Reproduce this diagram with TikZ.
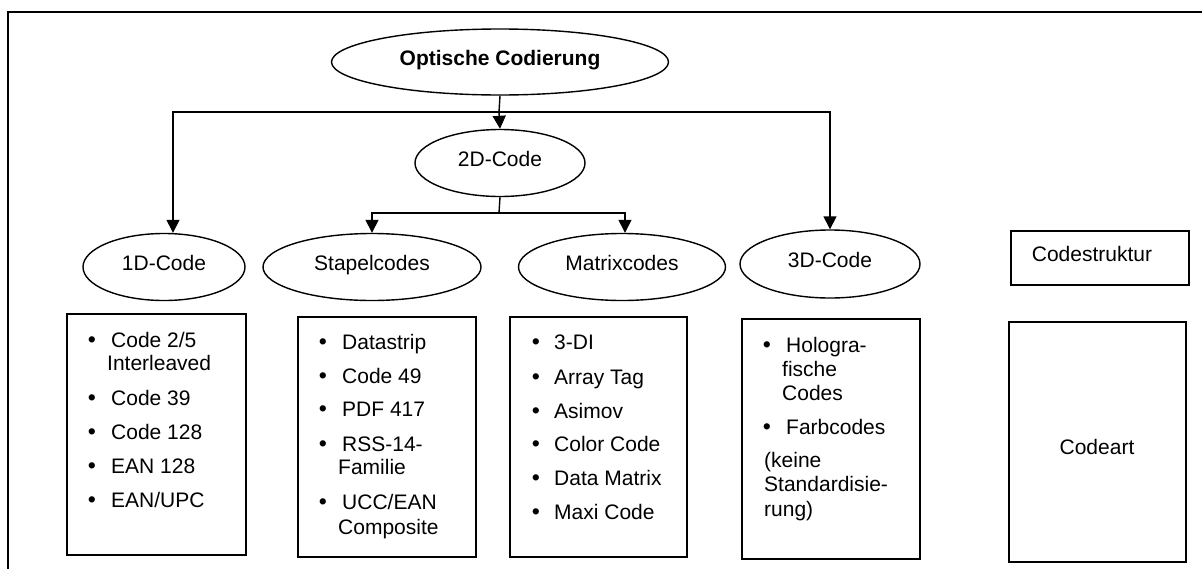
\documentclass[tikz,border=0pt]{standalone}
\usepackage{fontspec}
\setmainfont{Liberation Sans}
\usetikzlibrary{shapes.geometric,arrows.meta}
\begin{document}
\begin{tikzpicture}[x=1pt,y=-1pt,
  every node/.style={font=\fontsize{21}{24}\selectfont},
  txt/.style={inner sep=0pt},
  oval/.style={draw,line width=1.4pt,ellipse,inner sep=0pt,text height=0.72em,text depth=0pt},
  box/.style={draw,line width=1.6pt,rectangle,inner sep=0pt,text height=0.72em,text depth=0pt},
  conn/.style={line width=1.4pt},
  arr/.style={line width=1.4pt,-{Triangle[length=13pt,width=13pt]}}]
\useasboundingbox (0,0) rectangle (1202,568);
\clip (0,0) rectangle (1202,568);
\draw[line width=1.8pt] (8,12) rectangle (1240,600);

% ellipses
\node[oval,minimum width=337pt,minimum height=66pt] (oc) at (500,62) {\textbf{Optische Codierung}};
\node[oval,minimum width=170pt,minimum height=67pt] (c2) at (500,163) {2D-Code};
\node[oval,minimum width=162pt,minimum height=67pt] (c1) at (164,267) {1D-Code};
\node[oval,minimum width=218pt,minimum height=67pt] (st) at (372,267) {Stapelcodes};
\node[oval,minimum width=207pt,minimum height=67pt] (mx) at (622,267) {Matrixcodes};
\node[oval,minimum width=180pt,minimum height=68pt] (c3) at (830,264) {3D-Code};

% rectangles
\node[box,minimum width=178pt,minimum height=54pt] (cs) at (1100,258) {\hspace*{-16pt}Codestruktur};
\node[box,minimum width=179pt,minimum height=241pt] (b1) at (156.5,434.5) {};
\node[box,minimum width=178pt,minimum height=240pt] (b2) at (387,437) {};
\node[box,minimum width=177pt,minimum height=240pt] (b3) at (598.5,437) {};
\node[box,minimum width=178pt,minimum height=240pt] (b4) at (831,439) {};
\node[box,minimum width=177pt,minimum height=240pt] (ca) at (1097.5,442) {};
\node[txt,text height=0.72em,text depth=0pt] (cat) at (1097,451) {Codeart};

% connectors
\coordinate (j1) at (499,112);
\coordinate (j2) at (499,213);
\draw[conn] (oc.south) -- (j1);
\draw[arr] (j1) -- (c2.north);
\draw[arr] (j1) -| ([xshift=9pt]c1.north);
\draw[arr] (j1) -| (c3.north);
\draw[conn] (c2.south) -- (j2);
\draw[arr] (j2) -| (st.north);
\draw[arr] (j2) -| ([xshift=3pt]mx.north);

% list texts
\newcommand\itm[5]{\node[txt,anchor=base,scale=1.1] (#1b) at (#2,#4+7.5) {\textbullet};
  \node[txt,anchor=base west] (#1) at (#3,#4+7.5) {#5};}
\newcommand\lin[4]{\node[txt,anchor=base west] (#1) at (#2,#3+7.5) {#4};}

\itm{ia}{92}{111}{340}{Code 2/5}
\lin{ia2}{107}{363}{Interleaved}
\itm{ib}{92}{111}{398}{Code 39}
\itm{ic}{92}{111}{432}{Code 128}
\itm{id}{92}{111}{466}{EAN 128}
\itm{ie}{92}{111}{500}{EAN/UPC}

\itm{sa}{323}{342}{342}{Datastrip}
\itm{sb}{323}{342}{376}{Code 49}
\itm{sc}{323}{342}{409}{PDF 417}
\itm{sd}{323}{342}{444}{RSS-14-}
\lin{sd2}{338}{467}{Familie}
\itm{se}{323}{342}{502}{UCC/EAN}
\lin{se2}{338}{527}{Composite}

\itm{ma}{536}{554}{342}{3-DI}
\itm{mb}{536}{554}{377}{Array Tag}
\itm{mc}{536}{554}{411}{Asimov}
\itm{md}{536}{554}{444}{Color Code}
\itm{me}{536}{554}{478}{Data Matrix}
\itm{mf}{536}{554}{512}{Maxi Code}

\itm{ha}{767}{786}{345}{Hologra-}
\lin{ha2}{782}{369}{fische}
\lin{ha3}{782}{393}{Codes}
\itm{hb}{767}{786}{427}{Farbcodes}
\lin{hc}{764}{460}{(keine}
\lin{hc2}{764}{484}{Standardisie-}
\lin{hc3}{764}{509}{rung)}
\end{tikzpicture}
\end{document}
